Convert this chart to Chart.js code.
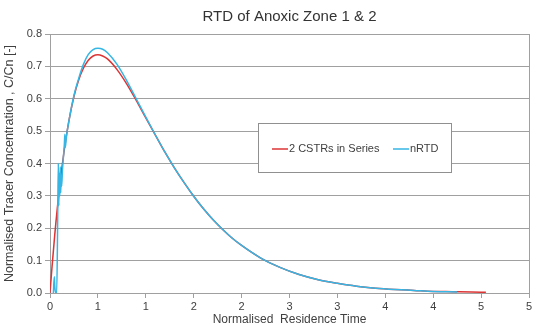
<!DOCTYPE html>
<html>
<head>
<meta charset="utf-8">
<script src="https://cdn.jsdelivr.net/npm/chart.js@4"></script>
<style>
html,body{margin:0;padding:0;background:#fff;}
#wrap{width:555px;height:332px;}
</style>
</head>
<body>
<div id="wrap"><canvas id="c" width="555" height="332"></canvas></div>
<script>
const chartTitle = 'RTD of Anoxic Zone 1 & 2';
const xAxisTitle = 'Normalised  Residence Time';
const yAxisTitle = 'Normalised Tracer Concentration , C/Cn [-]';
const seriesNames = ['2 CSTRs in Series', 'nRTD'];
const xTickLabels = ['0','1','1','2','2','3','3','4','4','5','5'];
const yTickLabels = ['0.0','0.1','0.2','0.3','0.4','0.5','0.6','0.7','0.8'];

const xRed = [0,0.02,0.05,0.1,0.15,0.2,0.25,0.3,0.35,0.4,0.45,0.5,0.55,0.6,0.7,0.8,0.9,1.0,1.1,1.2,1.3,1.4,1.5,1.6,1.7,1.8,1.9,2.0,2.2,2.4,2.6,2.8,3.0,3.2,3.4,3.6,3.8,4.0,4.2,4.4,4.55];
const yRed = [0,0.077,0.181,0.328,0.444,0.536,0.607,0.659,0.695,0.719,0.732,0.736,0.732,0.723,0.690,0.646,0.595,0.541,0.488,0.435,0.386,0.341,0.299,0.261,0.227,0.197,0.170,0.147,0.108,0.079,0.057,0.041,0.030,0.021,0.015,0.011,0.008,0.005,0.004,0.003,0.002];

const xBlue = [0.035,0.045,0.05,0.06,0.07,0.08,0.087,0.092,0.097,0.102,0.107,0.112,0.117,0.122,0.13,0.14,0.15,0.155,0.16,0.17,0.2,0.25,0.3,0.35,0.4,0.45,0.5,0.55,0.6,0.7,0.8,0.9,1.0,1.1,1.2,1.3,1.4,1.5,1.6,1.7,1.8,1.9,2.0,2.2,2.4,2.6,2.8,3.0,3.2,3.4,3.6,3.8,4.0,4.25];
const yBlue = [0,0.05,0.02,0,0,0.22,0.40,0.27,0.37,0.30,0.39,0.31,0.36,0.33,0.38,0.42,0.46,0.49,0.45,0.48,0.535,0.61,0.663,0.707,0.737,0.752,0.756,0.753,0.742,0.706,0.656,0.600,0.543,0.488,0.435,0.386,0.341,0.299,0.261,0.227,0.197,0.170,0.147,0.108,0.079,0.057,0.041,0.030,0.021,0.015,0.011,0.008,0.005,0.003];

const RED = '#dc3434';
const BLUE = '#36b6e4';
const GRID = '#a0a0a0';
const TEXT = '#404040';
const FONT = "'Liberation Sans', Arial, sans-serif";

const borderPlugin = {
  id: 'border',
  afterDatasetsDraw(chart) {
    const {ctx, chartArea: a} = chart;
    ctx.save();
    ctx.strokeStyle = GRID;
    ctx.lineWidth = 1;
    ctx.beginPath();
    ctx.moveTo(Math.round(a.right) + 0.5, a.top);
    ctx.lineTo(Math.round(a.right) + 0.5, a.bottom);
    ctx.stroke();
    ctx.restore();
  }
};

const legendPlugin = {
  id: 'boxLegend',
  afterDraw(chart) {
    const ctx = chart.ctx;
    const bx = 258.5, by = 123.5, bw = 193, bh = 49;
    ctx.save();
    ctx.fillStyle = '#ffffff';
    ctx.fillRect(bx, by, bw, bh);
    ctx.strokeStyle = '#909090';
    ctx.lineWidth = 1;
    ctx.strokeRect(bx, by, bw, bh);
    ctx.font = '11px ' + FONT;
    ctx.textBaseline = 'middle';
    ctx.fillStyle = TEXT;
    const cy = by + bh / 2 + 1;
    const items = [
      {name: seriesNames[0], color: RED, x: 272},
      {name: seriesNames[1], color: BLUE, x: 393}
    ];
    items.forEach(it => {
      ctx.strokeStyle = it.color;
      ctx.lineWidth = 1.5;
      ctx.beginPath();
      ctx.moveTo(it.x, cy);
      ctx.lineTo(it.x + 16, cy);
      ctx.stroke();
      ctx.fillText(it.name, it.x + 17, cy);
    });
    ctx.restore();
  }
};

new Chart(document.getElementById('c'), {
  type: 'line',
  data: {
    datasets: [
      {
        label: seriesNames[1],
        data: xBlue.map((x, i) => ({x: x, y: yBlue[i]})),
        borderColor: BLUE,
        borderWidth: 1.5,
        pointRadius: 0,
        cubicInterpolationMode: 'monotone',
        fill: false
      },
      {
        label: seriesNames[0],
        data: xRed.map((x, i) => ({x: x, y: yRed[i]})),
        borderColor: RED,
        borderWidth: 1.5,
        pointRadius: 0,
        cubicInterpolationMode: 'monotone',
        fill: false
      }
    ]
  },
  options: {
    responsive: false,
    animation: false,
    devicePixelRatio: 1,
    layout: {padding: {left: 0, right: 26, top: 0, bottom: 0}},
    plugins: {
      legend: {display: false},
      tooltip: {enabled: false},
      title: {
        display: true,
        text: chartTitle,
        fullSize: false,
        color: '#333333',
        font: {family: FONT, size: 15, weight: 'normal', lineHeight: 1.2},
        padding: {top: 8, bottom: 8}
      }
    },
    scales: {
      x: {
        type: 'linear',
        min: 0,
        max: 5,
        afterFit(s) { s.height = 39; },
        afterBuildTicks(s) {
          s.ticks = xTickLabels.map((l, i) => ({value: i * 0.5}));
        },
        ticks: {
          color: TEXT,
          font: {family: FONT, size: 11},
          padding: 2,
          maxRotation: 0,
          autoSkip: false,
          callback: (v, i) => xTickLabels[i]
        },
        grid: {
          drawOnChartArea: false,
          drawTicks: true,
          tickLength: 5,
          color: GRID
        },
        border: {color: GRID, width: 1},
        title: {
          display: true,
          text: xAxisTitle,
          color: TEXT,
          font: {family: FONT, size: 12, lineHeight: 1.2},
          padding: {top: 0, bottom: 5}
        }
      },
      y: {
        type: 'linear',
        min: 0,
        max: 0.8,
        afterFit(s) { s.width = 50; },
        afterBuildTicks(s) {
          s.ticks = yTickLabels.map((l, i) => ({value: i * 0.1}));
        },
        ticks: {
          color: TEXT,
          font: {family: FONT, size: 11},
          padding: 3,
          autoSkip: false,
          callback: (v, i) => yTickLabels[i]
        },
        grid: {
          color: GRID,
          lineWidth: 1,
          tickLength: 5
        },
        border: {color: GRID, width: 1},
        title: {
          display: true,
          text: yAxisTitle,
          color: TEXT,
          font: {family: FONT, size: 12.5, lineHeight: 1.1},
          padding: {top: 3, bottom: 0}
        }
      }
    }
  },
  plugins: [borderPlugin, legendPlugin]
});
</script>
</body>
</html>
